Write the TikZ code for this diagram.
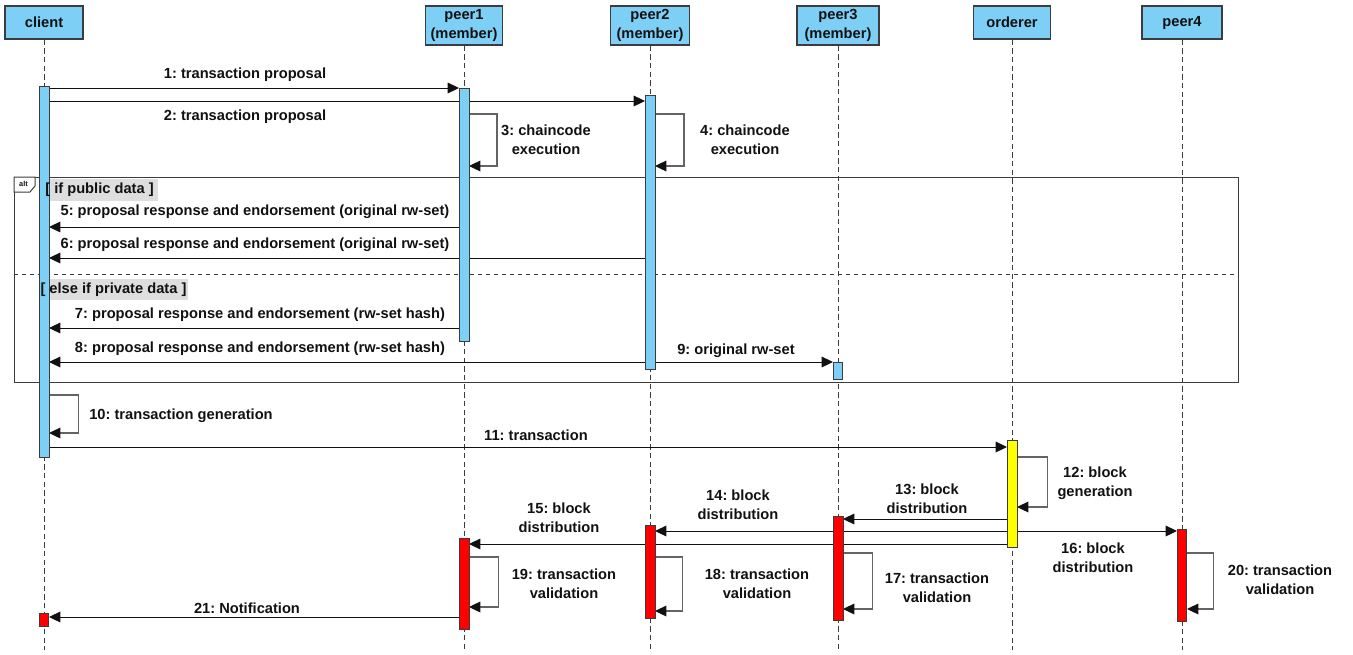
\documentclass[tikz,border=0pt]{standalone}
\usepackage{fontspec}
\setmainfont{Liberation Sans}
\frenchspacing
\usetikzlibrary{arrows.meta,fit}
\definecolor{lifeblue}{RGB}{125,207,245}
\definecolor{actred}{RGB}{255,0,0}
\definecolor{actyellow}{RGB}{255,255,0}
\definecolor{edge}{RGB}{60,60,60}
\definecolor{ink}{RGB}{17,17,17}
\definecolor{loopgray}{RGB}{100,100,100}
\definecolor{guardgray}{RGB}{222,222,222}
\begin{document}
\begin{tikzpicture}[x=0.75pt,y=-0.75pt,
  every node/.style={font=\fontsize{11}{14.5}\selectfont\bfseries, text=ink},
  head/.style={draw=edge, fill=lifeblue, line width=0.8pt, align=center, inner sep=0pt},
  life/.style={draw=edge, line width=0.75pt, dash pattern=on 4pt off 2.5pt},
  act/.style={draw=edge, line width=0.75pt, inner sep=0pt},
  msg/.style={draw=ink, line width=0.75pt, -{Triangle[length=8.5pt,width=8pt,color=ink]}},
  selfmsg/.style={draw=loopgray, line width=0.9pt, -{Triangle[length=8.5pt,width=8pt,color=ink]}},
  lbl/.style={align=center, inner sep=0pt},
  frame/.style={draw=edge, line width=0.75pt},
  guard/.style={inner xsep=2.6pt, inner ysep=0pt, minimum height=16.5pt}]
\useasboundingbox (0,0) rectangle (1353,654);

% participant heads
\node[head, minimum width=58.5pt, minimum height=24.75pt] (hc) at (44,22.5) {client};
\node[head, minimum width=57.75pt, minimum height=29.25pt] (hp1) at (464,25.5) {peer1\\(member)};
\node[head, minimum width=59.25pt, minimum height=29.25pt] (hp2) at (650,25.5) {peer2\\(member)};
\node[head, minimum width=61.5pt, minimum height=29.25pt] (hp3) at (838,25.5) {peer3\\(member)};
\node[head, minimum width=57.75pt, minimum height=24.75pt] (ho) at (1012,22.5) {orderer};
\node[head, minimum width=60pt, minimum height=24.75pt] (hp4) at (1182,22.5) {peer4};

% lifelines
\foreach \h in {hc,hp1,hp2,hp3,ho,hp4}
  \draw[life] (\h.south) -- (\h.south |- 0,650);

% alt fragment
\draw[frame] (14,177) rectangle (1238,382);
\draw[frame, dashed] (14,274) -- (1238,274);
\draw[frame, fill=white] (14,177) -- (35,177) -- (35,186) -- (30,192) -- (14,192) -- cycle;
\node[font=\fontsize{5.5}{6}\selectfont\bfseries] (alttag) at (23.5,184) {alt};
% guard backgrounds (the bars overlap their left ends)
\fill[guardgray] (41,179) rectangle (158,201);
\fill[guardgray] (39,279) rectangle (188,300);

% activation bars
\node[act, fill=lifeblue, fit={(39.5,87)(48.5,457)}] (ca) {};
\node[act, fill=actred, fit={(39.5,613)(48.5,626)}] (cr) {};
\node[act, fill=lifeblue, fit={(459.5,89)(468.5,341)}] (p1a) {};
\node[act, fill=actred, fit={(459.5,539)(468.5,629)}] (p1r) {};
\node[act, fill=lifeblue, fit={(645.5,96)(654.5,369)}] (p2a) {};
\node[act, fill=actred, fit={(645.5,526)(654.5,618)}] (p2r) {};
\node[act, fill=lifeblue, fit={(833.5,362)(842.5,379)}] (p3a) {};
\node[act, fill=actred, fit={(833.5,517)(842.5,620)}] (p3r) {};
\node[act, fill=actyellow, fit={(1007.5,441)(1016.5,547)}] (oa) {};
\node[act, fill=actred, fit={(1177.5,529)(1186.5,621)}] (p4r) {};

% messages
\draw[msg] (ca.east |- 0,88) -- (p1a.west |- 0,88);
\draw[msg] (ca.east |- 0,101) -- (p2a.west |- 0,101);
\draw[selfmsg] (p1a.east |- 0,114) -- ++(28,0) |- (p1a.east |- 0,166);
\draw[selfmsg] (p2a.east |- 0,114) -- ++(29,0) |- (p2a.east |- 0,166);
\draw[msg] (p1a.west |- 0,227) -- (ca.east |- 0,227);
\draw[msg] (p2a.west |- 0,258) -- (ca.east |- 0,258);
\draw[msg] (p1a.west |- 0,328) -- (ca.east |- 0,328);
\draw[msg] (p2a.west |- 0,362) -- (ca.east |- 0,362);
\draw[msg] (p2a.east |- 0,362) -- (p3a.west |- 0,362);
\draw[selfmsg] (ca.east |- 0,395) -- ++(29.5,0) |- (ca.east |- 0,433);
\draw[msg] (ca.east |- 0,447) -- (oa.west |- 0,447);
\draw[selfmsg] (oa.east |- 0,457) -- ++(30.5,0) |- (oa.east |- 0,507);
\draw[msg] (oa.west |- 0,519) -- (p3r.east |- 0,519);
\draw[msg] (oa.west |- 0,531) -- (p2r.east |- 0,531);
\draw[msg] (oa.west |- 0,544) -- (p1r.east |- 0,544);
\draw[msg] (oa.east |- 0,531) -- (p4r.west |- 0,531);
\draw[selfmsg] (p3r.east |- 0,553) -- ++(29.5,0) |- (p3r.east |- 0,609);
\draw[selfmsg] (p2r.east |- 0,557) -- ++(27.5,0) |- (p2r.east |- 0,611);
\draw[selfmsg] (p1r.east |- 0,557) -- ++(29.5,0) |- (p1r.east |- 0,607);
\draw[selfmsg] (p4r.east |- 0,553) -- ++(26.5,0) |- (p4r.east |- 0,609);
\draw[msg] (p1r.west |- 0,617) -- (cr.east |- 0,617);

% bars repainted over the messages that cross them
\foreach \a/\c in {ca/lifeblue,p1a/lifeblue,p2a/lifeblue,p1r/actred,p2r/actred,p3r/actred,oa/actyellow}
  \draw[act, fill=\c] (\a.north west) rectangle (\a.south east);

% guard conditions
\node[guard] (g1) at (99.5,190) {[ if public data ]};
\node[guard] (g2) at (113.5,289.5) {[ else if private data ]};

% message labels
\node[lbl] (l1) at (245,75) {1: transaction proposal};
\node[lbl] (l2) at (245,117) {2: transaction proposal};
\node[lbl] (l3) at (546,140) {3: chaincode\\execution};
\node[lbl] (l4) at (745,140) {4: chaincode\\execution};
\node[lbl] (l5) at (255,212) {5: proposal response and endorsement (original rw-set)};
\node[lbl] (l6) at (255,245) {6: proposal response and endorsement (original rw-set)};
\node[lbl] (l7) at (260,315) {7: proposal response and endorsement (rw-set hash)};
\node[lbl] (l8) at (260,349) {8: proposal response and endorsement (rw-set hash)};
\node[lbl] (l9) at (736,351) {9: original rw-set};
\node[lbl] (l10) at (181,416) {10: transaction generation};
\node[lbl] (l11) at (536,435) {11: transaction};
\node[lbl] (l12) at (1095,483) {12: block\\generation};
\node[lbl] (l13) at (927,499) {13: block\\distribution};
\node[lbl] (l14) at (738,505) {14: block\\distribution};
\node[lbl] (l15) at (559,518) {15: block\\distribution};
\node[lbl] (l16) at (1093,558) {16: block\\distribution};
\node[lbl] (l17) at (937,588) {17: transaction\\validation};
\node[lbl] (l18) at (757,584) {18: transaction\\validation};
\node[lbl] (l19) at (564,584) {19: transaction\\validation};
\node[lbl] (l20) at (1280,580) {20: transaction\\validation};
\node[lbl] (l21) at (247,608) {21: Notification};
\end{tikzpicture}
\end{document}
